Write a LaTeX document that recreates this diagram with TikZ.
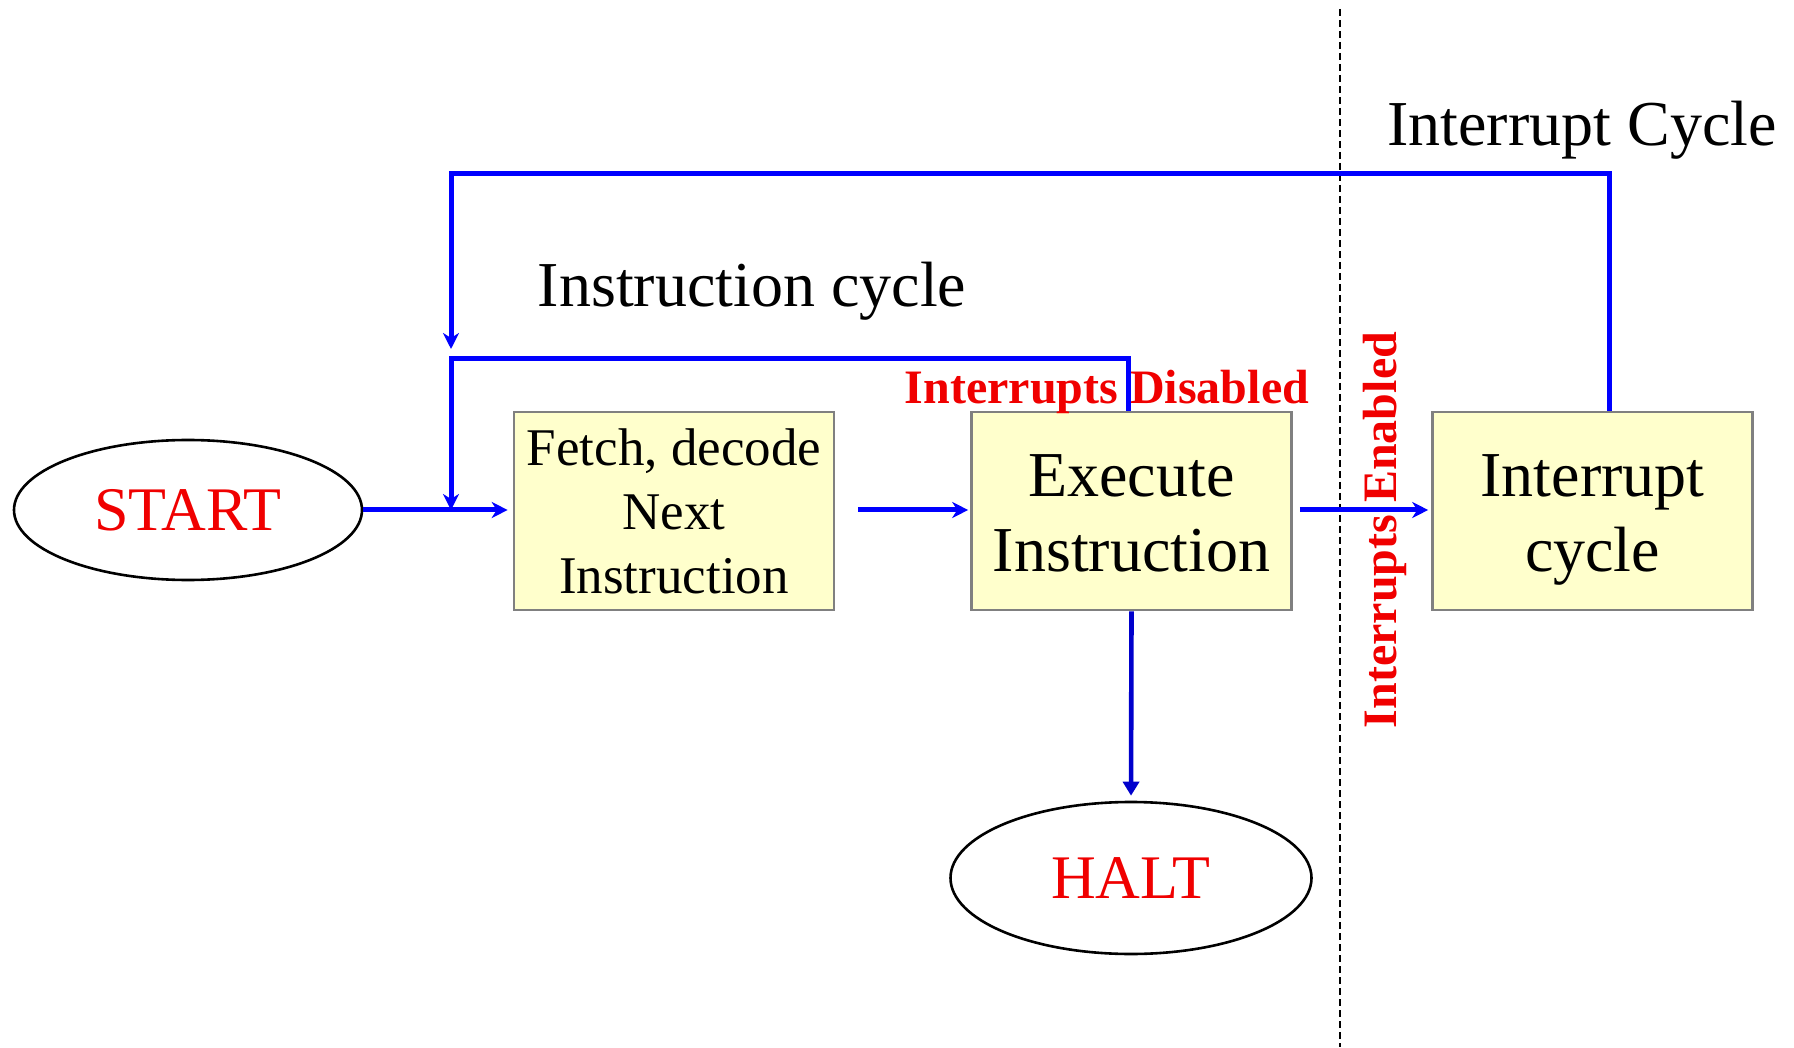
\documentclass[tikz,border=0pt]{standalone}
\usepackage{fontspec}
\setmainfont{Liberation Serif}
\usetikzlibrary{arrows.meta,shapes.geometric}
\definecolor{flowblue}{RGB}{0,0,255}
\definecolor{haltblue}{RGB}{0,0,204}
\definecolor{boxfill}{RGB}{255,255,204}
\definecolor{boxedge}{RGB}{128,128,128}
\definecolor{labelred}{RGB}{240,0,0}
% struts that place two-line box text a little below the box centre
\newcommand{\toprule}{\rule{0pt}{30pt}}
\newcommand{\botrule}{\rule[-7.5pt]{0pt}{7.5pt}}
\begin{document}
\begin{tikzpicture}[x=0.5pt,y=-0.5pt,
  stepbox/.style={rectangle, draw=boxedge, fill=boxfill, line width=1.3pt,
    minimum width=160pt, minimum height=99pt, inner sep=0pt, align=center},
  terminal/.style={ellipse, draw=black, line width=1.3pt, inner sep=0pt,
    text=labelred, font=\fontsize{31}{36}\selectfont},
  wire/.style={draw=flowblue, line width=2.5pt},
  flow/.style={wire, -{Stealth[length=8pt,width=8pt,inset=2.5pt]}},
  haltflow/.style={draw=haltblue, line width=2.3pt, -{Triangle[length=7pt,width=8pt]}},
  flag/.style={text=labelred, font=\bfseries\fontsize{24}{28}\selectfont, inner sep=0pt},
  title/.style={font=\fontsize{32}{38}\selectfont, inner sep=0pt}]

% page area
\fill[white] (0,0) rectangle (1794,1047);

% phase separator
\draw[black, line width=0.8pt, dash pattern=on 3.5pt off 2pt] (1340,9) -- (1340,1047);

% terminals
\node[terminal, minimum width=174pt, minimum height=70pt] (start) at (188,510) {START};
\node[terminal, minimum width=180.5pt, minimum height=76pt] (halt) at (1131,878) {HALT};

% processing steps
\node[stepbox, font=\fontsize{26.5}{32}\selectfont] (fetch) at (674,511) {Fetch, decode\\Next\\Instruction};
\node[stepbox, font=\fontsize{32}{37.5}\selectfont] (exec) at (1131.5,511) {\toprule Execute\\Instruction\botrule};
\node[stepbox, font=\fontsize{32}{37.5}\selectfont] (intr) at (1592.5,511) {\toprule Interrupt\\cycle\botrule};

% titles and conditions
\node[title, anchor=base] (lblinst) at (752,307) {Instruction cycle};
\node[title, anchor=base] (lblint) at (1582,146) {Interrupt Cycle};
\node[flag, anchor=base] (lbldis) at (1107,404) {Interrupts Disabled};
\node[flag, anchor=base, rotate=90] (lblen) at (1396,530) {Interrupts Enabled};

% loop routing points
\coordinate (join) at (451,510);
\coordinate (instcorner) at (451,359);
\coordinate (intcorner) at (451,174);
\coordinate (intend) at (451,349);

% connectors
\draw[flow, shorten >=2.5pt] (start.east) -- (start.east -| fetch.west);
\draw[flow] ([xshift=-1.5pt]exec.north) |- (instcorner) -- (join);
\draw[flow] ([xshift=8.5pt]intr.north) |- (intcorner) -- (intend);
\draw[flow, shorten <=11.5pt, shorten >=1pt] (fetch.east |- start.east) -- (exec.west |- start.east);
\draw[flow, shorten <=3.5pt, shorten >=1.5pt] (exec.east |- start.east) -- (intr.west |- start.east);
\draw[haltflow, shorten >=2.5pt] (exec.south) -- (halt.north);
\end{tikzpicture}
\end{document}
